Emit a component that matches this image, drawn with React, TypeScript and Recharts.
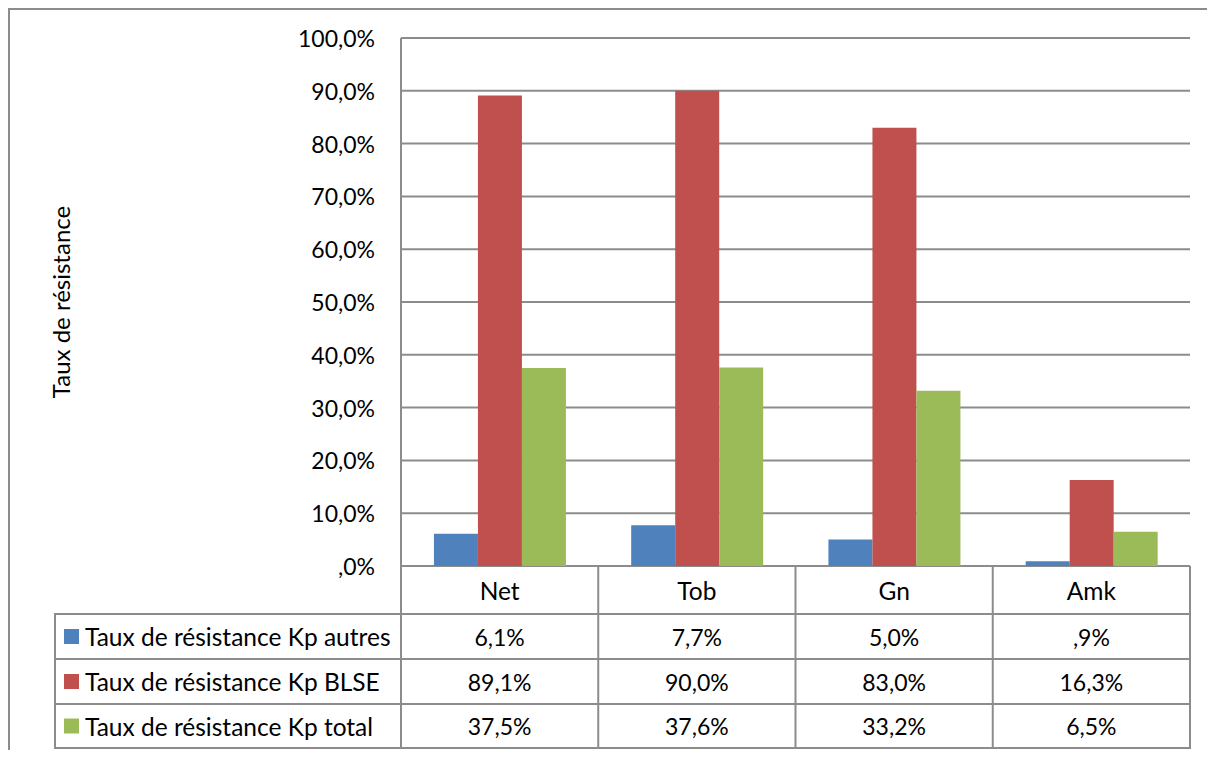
import React from 'react';
import { BarChart, Bar, XAxis, YAxis, CartesianGrid, Label } from 'recharts';

// Resistance rates (%) per antibiotic
const categories = ['Net', 'Tob', 'Gn', 'Amk'];
const kpAutres = [6.1, 7.7, 5.0, 0.9];
const kpBlse = [89.1, 90.0, 83.0, 16.3];
const kpTotal = [37.5, 37.6, 33.2, 6.5];
const seriesNames = [
  'Taux de résistance Kp autres',
  'Taux de résistance Kp BLSE',
  'Taux de résistance Kp total',
];
const seriesKeys = ['autres', 'blse', 'total'];
const seriesColors = ['#4F81BD', '#C0504D', '#9BBB59'];
const yTicks = [0, 10, 20, 30, 40, 50, 60, 70, 80, 90, 100];
const yTitle = 'Taux de résistance';

const data = categories.map((name, i) => ({
  name,
  autres: kpAutres[i],
  blse: kpBlse[i],
  total: kpTotal[i],
}));
const seriesValues = [kpAutres, kpBlse, kpTotal];

// Layout (chart coordinates)
const W = 1197;
const H = 740;
const PLOT_LEFT = 391;
const PLOT_TOP = 28;
const PLOT_RIGHT = 1180;
const PLOT_BOTTOM = 556;
const TABLE_H = 182;
const BAND = (PLOT_RIGHT - PLOT_LEFT) / categories.length;
const ROW_LINES = [48, 93, 138, 182];
const LEGEND_LEFT = 45;
const LINE = '#8c8c8c';
const FONT = 'Lato, "Noto Sans", sans-serif';
const FS = 23;
const FS_TEXT = 24.5;

// Excel-like number format: one decimal, comma separator, leading zero dropped
const fmt = (v: number) => v.toFixed(1).replace('.', ',').replace(/^0/, '') + '%';

const YTick = (props: any) => {
  const { x, y, payload } = props;
  return (
    <text x={x} y={y} textAnchor="end" dominantBaseline="central" fontFamily={FONT} fontSize={FS} fill="#000">
      {fmt(payload.value)}
    </text>
  );
};

const YTitle = (props: any) => {
  const vb = props.viewBox || {};
  const cx = 50;
  const cy = (vb.y ?? PLOT_TOP) + (vb.height ?? PLOT_BOTTOM - PLOT_TOP) / 2;
  return (
    <text
      x={cx}
      y={cy}
      transform={`rotate(-90, ${cx}, ${cy})`}
      textAnchor="middle"
      dominantBaseline="central"
      fontFamily={FONT}
      fontSize={24}
      fill="#000"
    >
      {yTitle}
    </text>
  );
};

// Each category tick draws its column of the data table below the plot
const TableColumn = (props: any) => {
  const { x, payload, index } = props;
  const left = x - BAND / 2;
  const right = x + BAND / 2;
  const top = PLOT_BOTTOM;
  const rowCenters = [24, 70.5, 115.5, 160];
  return (
    <g>
      {index === 0 && (
        <g>
          <line x1={left} x2={left} y1={top} y2={top + TABLE_H} stroke={LINE} strokeWidth={2} />
          <line x1={LEGEND_LEFT} x2={LEGEND_LEFT} y1={top + ROW_LINES[0]} y2={top + TABLE_H + 1} stroke={LINE} strokeWidth={2} />
          {ROW_LINES.map((r) => (
            <line key={r} x1={LEGEND_LEFT - 1} x2={left} y1={top + r} y2={top + r} stroke={LINE} strokeWidth={2} />
          ))}
          {seriesNames.map((n, s) => (
            <g key={n}>
              <rect x={54} y={top + rowCenters[s + 1] - 7.5} width={15} height={15} fill={seriesColors[s]} />
              <text x={75} y={top + rowCenters[s + 1]} dominantBaseline="central" fontFamily={FONT} fontSize={FS_TEXT} fill="#000">
                {n}
              </text>
            </g>
          ))}
        </g>
      )}
      <line x1={right} x2={right} y1={top} y2={top + TABLE_H + 1} stroke={LINE} strokeWidth={2} />
      {ROW_LINES.map((r) => (
        <line key={r} x1={left} x2={right} y1={top + r} y2={top + r} stroke={LINE} strokeWidth={2} />
      ))}
      <text x={x} y={top + rowCenters[0]} textAnchor="middle" dominantBaseline="central" fontFamily={FONT} fontSize={FS_TEXT} fill="#000">
        {payload.value}
      </text>
      {seriesValues.map((vals, s) => (
        <text
          key={s}
          x={x}
          y={top + rowCenters[s + 1]}
          textAnchor="middle"
          dominantBaseline="central"
          fontFamily={FONT}
          fontSize={FS}
          fill="#000"
        >
          {fmt(vals[index])}
        </text>
      ))}
    </g>
  );
};

export default function App() {
  return (
    <div
      style={{
        width: 1199,
        height: 742,
        borderLeft: `2px solid ${LINE}`,
        borderTop: `2px solid ${LINE}`,
        boxSizing: 'border-box',
        background: '#fff',
      }}
    >
      <BarChart
        width={W}
        height={H}
        data={data}
        margin={{ top: PLOT_TOP, right: W - PLOT_RIGHT, left: 0, bottom: H - PLOT_BOTTOM - TABLE_H }}
        barCategoryGap="16.7%"
        barGap={0}
      >
        <CartesianGrid vertical={false} stroke={LINE} strokeWidth={2} />
        <XAxis
          dataKey="name"
          axisLine={false}
          tickLine={false}
          height={TABLE_H}
          interval={0}
          tick={<TableColumn />}
        />
        <YAxis
          width={PLOT_LEFT}
          domain={[0, 100]}
          ticks={yTicks}
          interval={0}
          axisLine={{ stroke: LINE, strokeWidth: 2 }}
          tickLine={false}
          tickSize={0}
          tickMargin={26}
          tick={<YTick />}
        >
          <Label content={<YTitle />} />
        </YAxis>
        {seriesKeys.map((k, s) => (
          <Bar key={k} dataKey={k} name={seriesNames[s]} fill={seriesColors[s]} isAnimationActive={false} />
        ))}
      </BarChart>
    </div>
  );
}
